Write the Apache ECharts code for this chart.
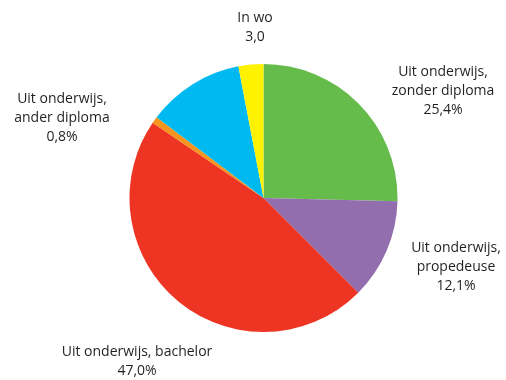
<!DOCTYPE html>
<html>
<head>
<meta charset="utf-8">
<script src="https://cdn.jsdelivr.net/npm/echarts@6/dist/echarts.min.js"></script>
<style>html,body{margin:0;padding:0;background:#fff}#c{width:506px;height:380px}</style>
</head>
<body>
<div id="c"></div>
<script>
const categories = ["Uit onderwijs, zonder diploma", "Uit onderwijs, propedeuse", "Uit onderwijs, bachelor", "Uit onderwijs, ander diploma", "Overig", "In wo"];
const values = [25.4, 12.1, 47.0, 0.8, 11.7, 3.0];
const labelTexts = ["Uit onderwijs,\nzonder diploma\n25,4%", "Uit onderwijs,\npropedeuse\n12,1%", "Uit onderwijs, bachelor\n47,0%", "Uit onderwijs,\nander diploma\n0,8%", "", "In wo\n3,0"];
const colors = ["#65bc4b", "#926eae", "#ee3524", "#f7941d", "#00b9f0", "#fff200"];
const labelPos = [[443, 91], [456, 267], [137, 362], [62, 118], null, [255, 28]];

const chart = echarts.init(document.getElementById('c'), null, {renderer: 'canvas'});
chart.setOption({
  animation: false,
  series: [{
    type: 'pie',
    center: [263.5, 198],
    radius: 134,
    startAngle: 90,
    clockwise: true,
    avoidLabelOverlap: false,
    labelLine: {show: false},
    label: {
      show: true,
      position: 'outside',
      fontFamily: 'Open Sans',
      fontSize: 14,
      lineHeight: 19,
      color: '#231f20',
      align: 'center',
      formatter: p => labelTexts[p.dataIndex]
    },
    labelLayout: function (params) {
      const p = labelPos[params.dataIndex];
      if (!p) return {};
      return {x: p[0], y: p[1], align: 'center', verticalAlign: 'middle'};
    },
    data: categories.map((c, i) => ({
      name: c,
      value: values[i],
      itemStyle: {color: colors[i]},
      label: {show: labelTexts[i] !== ''}
    }))
  }]
});
</script>
</body>
</html>
